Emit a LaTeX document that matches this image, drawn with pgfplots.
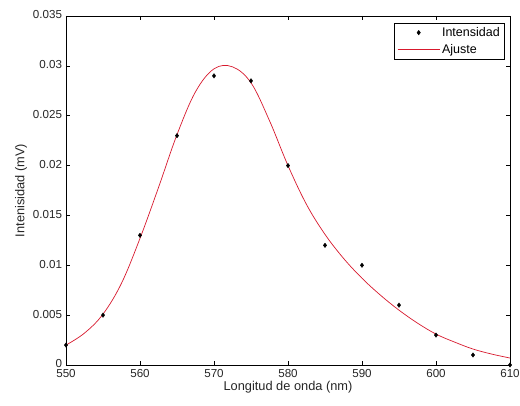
\documentclass[border=0pt]{standalone}
\usepackage{pgfplots}
\pgfplotsset{compat=1.18}
\usepackage{fontspec}
\setmainfont{Liberation Sans}
\definecolor{fitred}{RGB}{215,25,45}
\pgfplotsset{
  markleg/.style={legend image code/.code={\draw[##1, mark repeat=2, mark phase=2] plot coordinates {(0pt,0pt)(21pt,0pt)(42pt,0pt)};}},
  lineleg/.style={legend image code/.code={\draw[##1] (0pt,0pt) -- (42pt,0pt);}},
}
\begin{document}
\fontsize{11.5}{13}\selectfont
\begin{tikzpicture}
\path[use as bounding box] (-66pt,-41pt) rectangle (454pt,365pt);
\begin{axis}[
  at={(0pt,0pt)}, anchor=south west,
  scale only axis, width=444pt, height=349pt,
  xmin=550, xmax=610, ymin=0, ymax=0.035,
  xtick={550,560,...,610},
  ytick={0,0.005,0.01,0.015,0.02,0.025,0.03,0.035},
  scaled y ticks=false,
  /pgf/number format/fixed,
  /pgf/number format/precision=3,
  /pgf/number format/assume math mode=true,
  tick align=inside, tick pos=both,
  major tick length=4pt,
  tick style={black, line width=0.5pt},
  axis line style={black, line width=0.6pt},
  ticklabel style={font=\fontsize{11.6}{13}\selectfont, text=black!85},
  yticklabel style={yshift=1pt},
  xlabel={Longitud de onda (nm)},
  ylabel={Intenisidad (mV)},
  label style={font=\fontsize{12.8}{14}\selectfont, text=black!85},
  xlabel style={yshift=4pt},
  ylabel style={yshift=-2pt},
  clip=false,
  legend style={at={(1,1)}, anchor=north east, xshift=-5pt, yshift=-7pt,
    draw=black, line width=0.5pt, font=\fontsize{12.5}{14}\selectfont,
    inner xsep=3pt, inner ysep=2pt, row sep=2pt, cells={anchor=west}},
  legend cell align=left,
]
\addplot[only marks, mark=diamond*, mark size=2.2pt, black, markleg] coordinates {
(550,0.0020) (555,0.0050) (560,0.0130) (565,0.0230) (570,0.0290)
(575,0.0285) (580,0.0200) (585,0.0120) (590,0.0100) (595,0.0060)
(600,0.0030) (605,0.0010) (610,0.0000)
};
\addlegendentry{Intensidad}
\addplot[fitred, line width=0.7pt, smooth, tension=0.6, lineleg] coordinates {
(550,0.0020) (552.5,0.0032) (555,0.0051) (557.5,0.0082) (560,0.0127)
(562.5,0.0178) (565,0.0231) (567.5,0.0274) (570,0.0297)
(572.5,0.0299) (575,0.0283) (577.5,0.0245) (580,0.0200) (582.5,0.0161)
(585,0.0131) (587.5,0.0107) (590,0.0087) (592.5,0.0070) (595,0.0055)
(597.5,0.0042) (600,0.0031) (602.5,0.0023) (605,0.0016) (607.5,0.0011)
(610,0.0007)
};
\addlegendentry{Ajuste}
\end{axis}
\end{tikzpicture}
\end{document}
